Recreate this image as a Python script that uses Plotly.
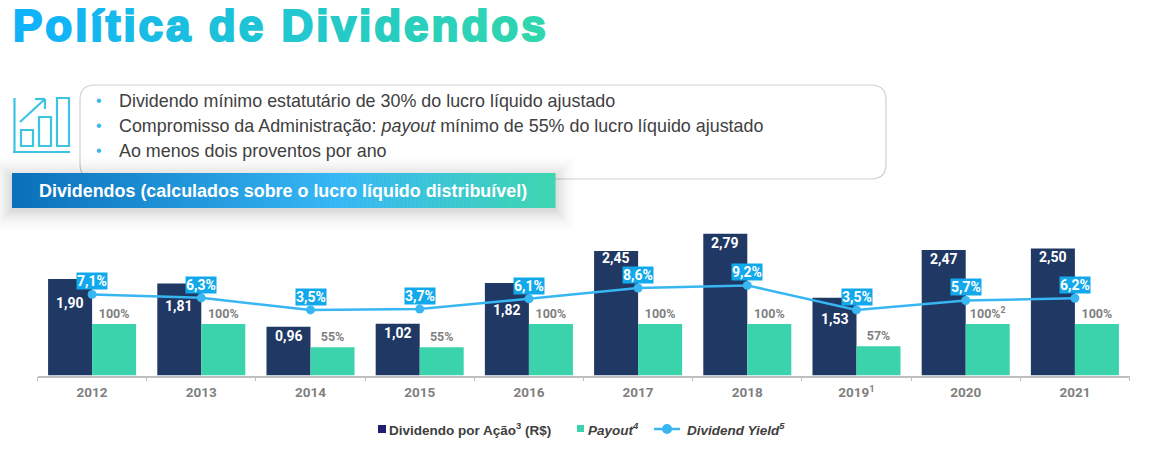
import plotly.graph_objects as go

W, H = 1153, 456

YEARS = ["2012", "2013", "2014", "2015", "2016", "2017", "2018", "2019", "2020", "2021"]
YEAR_LABELS = ["2012", "2013", "2014", "2015", "2016", "2017", "2018", "2019<sup>1</sup>", "2020", "2021"]
DPS = [1.90, 1.81, 0.96, 1.02, 1.82, 2.45, 2.79, 1.53, 2.47, 2.50]
DPS_LABELS = ["1,90", "1,81", "0,96", "1,02", "1,82", "2,45", "2,79", "1,53", "2,47", "2,50"]
PAYOUT = [100, 100, 55, 55, 100, 100, 100, 57, 100, 100]
PAYOUT_LABELS = ["100%", "100%", "55%", "55%", "100%", "100%", "100%", "57%", "100%<sup>2</sup>", "100%"]
YIELD = [7.1, 6.3, 3.5, 3.7, 6.1, 8.6, 9.2, 3.5, 5.7, 6.2]
YIELD_LABELS = ["7,1%", "6,3%", "3,5%", "3,7%", "6,1%", "8,6%", "9,2%", "3,5%", "5,7%", "6,2%"]
BULLETS = [
    "Dividendo mínimo estatutário de 30% do lucro líquido ajustado",
    "Compromisso da Administração: <i>payout</i> mínimo de 55% do lucro líquido ajustado",
    "Ao menos dois proventos por ano",
]
TITLE = "Política de Dividendos"
BANNER = "Dividendos (calculados sobre o lucro líquido distribuível)"
LEGEND_DPS = "Dividendo por Ação<sup>3</sup> (R$)"
LEGEND_PAYOUT = "<i>Payout<sup>4</sup></i>"
LEGEND_YIELD = "<i>Dividend Yield<sup>5</sup></i>"

# how far below the bar top each value label sits, the line pushes some of them down
DPS_LABEL_DROP = [24, 23, 9, 9, 27, 7, 9, 21, 9, 9]

NAVY = "#1F3864"
GREEN = "#3AD3AC"
BLUE = "#38B6F2"
LABEL_BLUE = "#12A9EC"
GREY = "#7F7F7F"
ICON = "#3CC4E2"
SANS = "Liberation Sans"
ROBOTO = "Roboto"


def px_x(x):
    return x / W


def px_y(y):
    return 1 - y / H


def mix(c1, c2, t):
    a = [int(c1[i:i + 2], 16) for i in (1, 3, 5)]
    b = [int(c2[i:i + 2], 16) for i in (1, 3, 5)]
    return "rgb({},{},{})".format(*[round(p + (q - p) * t) for p, q in zip(a, b)])


def rect(x0, y0, x1, y1, **kw):
    return dict(type="rect", xref="paper", yref="paper", x0=px_x(x0), x1=px_x(x1),
                y0=px_y(y0), y1=px_y(y1), **kw)


def seg(x0, y0, x1, y1, color=ICON, width=2.2):
    return dict(type="line", xref="paper", yref="paper", x0=px_x(x0), x1=px_x(x1),
                y0=px_y(y0), y1=px_y(y1), line=dict(color=color, width=width))


def text_px(x, y, text, size, color, family=SANS, xanchor="left"):
    return dict(xref="paper", yref="paper", x=px_x(x), y=px_y(y), text=text, showarrow=False,
                xanchor=xanchor, yanchor="middle", font=dict(family=family, size=size, color=color))


fig = go.Figure()
fig.add_trace(go.Bar(
    x=YEARS, y=DPS, name="Dividendo por Ação (R$)",
    marker=dict(color=NAVY, line_width=0), width=0.403, offset=-0.403, yaxis="y",
))
fig.add_trace(go.Bar(
    x=YEARS, y=PAYOUT, name="Payout",
    marker=dict(color=GREEN, line_width=0), width=0.403, offset=0, yaxis="y2",
    text=["<b>%s</b>" % t for t in PAYOUT_LABELS], textposition="outside", cliponaxis=False,
    textangle=0, constraintext="none",
    textfont=dict(family=ROBOTO, size=12.5, color=GREY),
))
fig.add_trace(go.Scatter(
    x=YEARS, y=YIELD, name="Dividend Yield", mode="lines+markers",
    line=dict(color=BLUE, width=2.5), marker=dict(color=BLUE, size=9), yaxis="y3",
))

annotations = []
for i, (val, lab, drop) in enumerate(zip(DPS, DPS_LABELS, DPS_LABEL_DROP)):
    annotations.append(dict(
        x=i, y=val, xref="x", yref="y", text="<b>%s</b>" % lab, showarrow=False, xshift=-22,
        yshift=-drop, yanchor="middle", font=dict(family=ROBOTO, size=14, color="white"),
    ))
for i, (val, lab) in enumerate(zip(YIELD, YIELD_LABELS)):
    annotations.append(dict(
        x=i, y=val, xref="x", yref="y3", text="<b>%s</b>" % lab, showarrow=False, yshift=13,
        yanchor="middle", bgcolor=LABEL_BLUE, borderpad=0,
        font=dict(family=ROBOTO, size=14, color="white"),
    ))

# title, one span per letter to fake the gradient; stroke and spacing give the heavy wide look
title_spans = ""
for i, ch in enumerate(TITLE):
    c = mix("#10B2FA", "#2FD6AE", i / (len(TITLE) - 1))
    title_spans += ('<span style="color:%s;font-weight:bold;stroke:%s;stroke-width:2.2px;'
                    'letter-spacing:3px">%s</span>' % (c, c, ch))
annotations.append(text_px(11, 26, title_spans, 44, "#10B2FA"))

for y, line in zip((101, 126, 151), BULLETS):
    annotations.append(text_px(98.5, y - 1, "•", 16, BLUE, xanchor="center"))
    annotations.append(text_px(117, y, line, 17.9, "#404040"))

annotations.append(text_px(37, 191, "<b>%s</b>" % BANNER, 17.9, "white"))

# legend, drawn by hand because the built-in one has oversized swatches and gaps
annotations.append(text_px(387, 429, "<b>%s</b>" % LEGEND_DPS, 13.5, "#404040"))
annotations.append(text_px(586, 429, "<b>%s</b>" % LEGEND_PAYOUT, 13.5, "#404040"))
annotations.append(text_px(685, 429, "<b>%s</b>" % LEGEND_YIELD, 13.5, "#404040"))

shapes = []

# rounded box behind the bullets
x0, y0, x1, y1, r = px_x(80), px_y(85), px_x(886), px_y(179), 15
rx, ry = r / W, r / H
shapes.append(dict(
    type="path", xref="paper", yref="paper", fillcolor="white", layer="below",
    line=dict(color="#CFCFCF", width=1.2),
    path=(f"M {x0 + rx} {y0} L {x1 - rx} {y0} Q {x1} {y0} {x1} {y0 - ry} "
          f"L {x1} {y1 + ry} Q {x1} {y1} {x1 - rx} {y1} L {x0 + rx} {y1} "
          f"Q {x0} {y1} {x0} {y1 + ry} L {x0} {y0 - ry} Q {x0} {y0} {x0 + rx} {y0} Z"),
))

# banner shadow, alpha grows towards the banner so the outer edge fades out
for i in range(24):
    g = 24 - i
    shapes.append(rect(12 - g, 177 - g, 555 + g, 210 + g,
                       fillcolor="rgba(0,0,0,%.4f)" % (0.0002 + 0.0005 * i), line_width=0))

# banner gradient
STEPS = 136
for i in range(STEPS):
    t = i / (STEPS - 1)
    col = mix("#0A70BA", "#36B7F5", t / 0.6) if t < 0.6 else mix("#36B7F5", "#3DD6B0", (t - 0.6) / 0.4)
    shapes.append(rect(12 + i * 543 / STEPS, 173, 12 + (i + 1) * 543 / STEPS + 0.5, 208,
                       fillcolor=col, line_width=0))

# chart icon
shapes += [
    seg(14.5, 98, 14.5, 153), seg(13, 152, 70, 152),
    rect(21, 130, 33, 146, line=dict(color=ICON, width=2.2)),
    rect(39, 117, 51, 146, line=dict(color=ICON, width=2.2)),
    rect(57, 98, 69, 146, line=dict(color=ICON, width=2.2)),
    seg(20, 122, 45, 99), seg(35, 99, 45, 99), seg(45, 99, 45, 109),
]

# legend swatches
shapes += [
    rect(378, 425, 386, 433, fillcolor="#1F1F6E", line_width=0),
    rect(577, 425, 584, 432, fillcolor=GREEN, line_width=0),
    seg(654, 429, 680, 429, color=BLUE, width=2.5),
    dict(type="circle", xref="paper", yref="paper", x0=px_x(662), x1=px_x(672), y0=px_y(424), y1=px_y(434),
         fillcolor=BLUE, line_width=0),
]

fig.update_layout(
    width=W, height=H, autosize=False, margin=dict(l=0, r=0, t=0, b=0),
    paper_bgcolor="white", plot_bgcolor="rgba(0,0,0,0)",
    barmode="overlay", showlegend=False,
    xaxis=dict(
        domain=[px_x(37.5), px_x(1129.5)], type="category", categoryorder="array", categoryarray=YEARS,
        range=[-0.5, 9.5], tickson="boundaries", ticks="outside", ticklen=4, tickcolor="#BFBFBF",
        showline=True, linecolor="#BFBFBF", linewidth=1.5, showgrid=False, tickvals=YEARS,
        ticklabelstandoff=4,
        ticktext=["<b>%s</b>" % t for t in YEAR_LABELS], tickfont=dict(family=ROBOTO, size=13.5, color=GREY),
    ),
    yaxis=dict(domain=[px_y(375.5), px_y(223)], range=[0, 3], visible=False),
    yaxis2=dict(domain=[px_y(375.5), px_y(223)], range=[0, 296], overlaying="y", visible=False),
    yaxis3=dict(domain=[px_y(375.5), px_y(223)], range=[-11.74, 23.7], overlaying="y", visible=False),
    annotations=annotations,
    shapes=shapes,
)

fig.write_html("out.html", config=dict(displayModeBar=False),
               post_script="document.body.style.margin='0';")
